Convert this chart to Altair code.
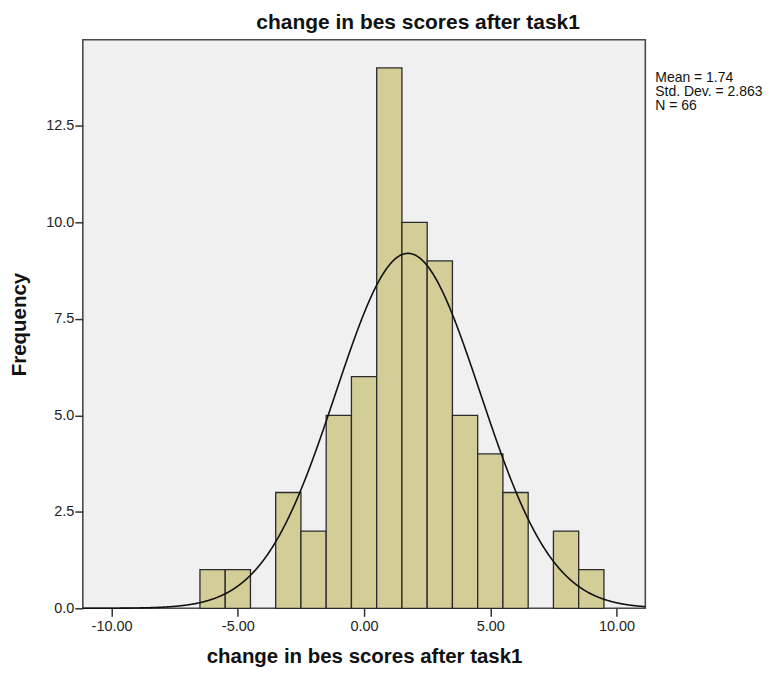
import altair as alt
import pandas as pd

# ---- data ----
bin_centers = [-6, -5, -4, -3, -2, -1, 0, 1, 2, 3, 4, 5, 6, 7, 8, 9]
counts      = [1, 1, 0, 3, 2, 5, 6, 14, 10, 9, 5, 4, 3, 0, 2, 1]
bin_width = 1.0
mean_val = 1.74
sd_val = 2.863
n_val = 66
stats_lines = ["Mean = 1.74", "Std. Dev. = 2.863", "N = 66"]
x_ticks = [-10, -5, 0, 5, 10]
y_ticks = [0, 2.5, 5, 7.5, 10, 12.5]
x_domain = [-11.14, 11.14]
y_domain = [0, 14.73]

title_text = "change in bes scores after task1"
x_title = "change in bes scores after task1"
y_title = "Frequency"

FONT = "Liberation Sans"
W, H = 564, 570

bars_df = pd.DataFrame({"center": bin_centers, "count": counts})
bars_df = bars_df[bars_df["count"] > 0]

x_scale = alt.Scale(domain=x_domain, nice=False, zero=False)
y_scale = alt.Scale(domain=y_domain, nice=False)

x_axis = alt.Axis(values=x_ticks, format=".2f", title=x_title, grid=False,
                  labelExpr="replace(datum.label, '\u2212', '-')",
                  tickSize=8, tickColor="#333333", tickWidth=1.5,
                  domain=False, labelFont=FONT, labelFontSize=14.5,
                  labelColor="#222222", labelPadding=3,
                  titleFont=FONT, titleFontSize=20.5, titleFontWeight="bold",
                  titleColor="#111111", titlePadding=14)
y_axis = alt.Axis(values=y_ticks, format=".1f", title=y_title, grid=False,
                  tickSize=8, tickColor="#333333", tickWidth=1.5,
                  domain=False, labelFont=FONT, labelFontSize=14.5,
                  labelColor="#222222", labelPadding=1,
                  titleFont=FONT, titleFontSize=20.5, titleFontWeight="bold",
                  titleColor="#111111", titlePadding=16)

bars = alt.Chart(bars_df).transform_calculate(
    x0=f"datum.center - {bin_width}/2",
    x1=f"datum.center + {bin_width}/2",
).mark_rect(fill="#D3CE98", stroke="#2b2b2b", strokeWidth=1.3).encode(
    x=alt.X("x0:Q", scale=x_scale, axis=x_axis),
    x2="x1:Q",
    y=alt.Y("count:Q", scale=y_scale, axis=y_axis),
    y2=alt.datum(0),
)

curve = alt.Chart(alt.sequence(x_domain[0], x_domain[1] + 0.01, 0.02, as_="xv")).transform_calculate(
    dens=f"{n_val} * {bin_width} / ({sd_val} * sqrt(2*PI)) * exp(-0.5 * pow((datum.xv - {mean_val}) / {sd_val}, 2))"
).mark_line(color="#111111", strokeWidth=1.6).encode(
    x=alt.X("xv:Q", scale=x_scale),
    y=alt.Y("dens:Q", scale=y_scale),
)

stats_df = pd.DataFrame({"txt": ["\n".join(stats_lines)]})
stats = alt.Chart(stats_df).mark_text(
    align="left", baseline="top", font=FONT, fontSize=14, lineHeight=14.2,
    lineBreak="\n", color="#111111"
).encode(
    x=alt.value(W + 10), y=alt.value(31.5), text="txt:N"
)

chart = alt.layer(bars, curve, stats).properties(
    width=W, height=H,
    background="white",
    title=alt.TitleParams(title_text, anchor="start", frame="group", dx=174,
                          font=FONT, fontSize=21, fontWeight="bold",
                          color="#111111", offset=7),
    autosize=alt.AutoSizeParams(type="none"),
    padding={"left": 75, "top": 31, "right": 125, "bottom": 64},
).configure_view(
    fill="#F0F0F0", stroke="#4a4a4a", strokeWidth=1.6
)

chart.save("out.html", embed_options={"renderer": "svg", "actions": False})
